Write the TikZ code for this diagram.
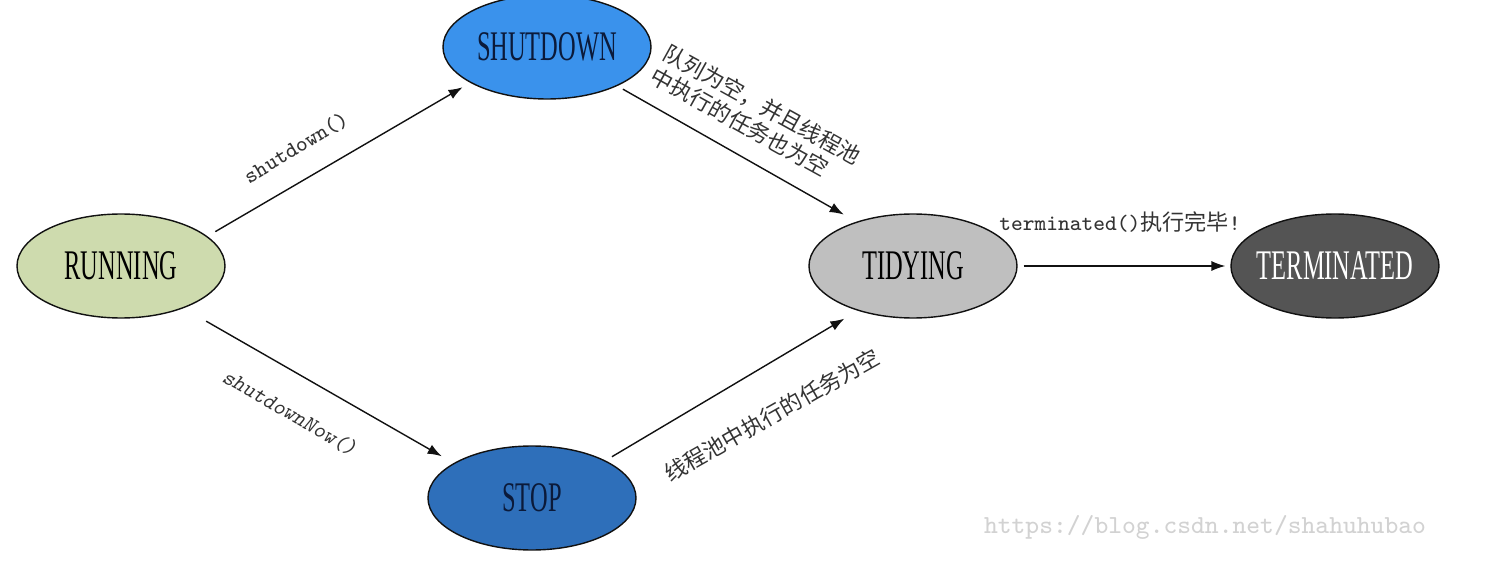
\documentclass[tikz,border=0pt]{standalone}
\usepackage{fontspec}
\newfontfamily\statefont[FakeStretch=0.58]{Liberation Serif}
\newfontfamily\cjk{Noto Sans CJK SC}
\usetikzlibrary{arrows.meta,shapes.geometric}
\definecolor{runfill}{HTML}{CEDBAE}
\definecolor{shutfill}{HTML}{3A92EC}
\definecolor{stopfill}{HTML}{2E6FBA}
\definecolor{tidyfill}{HTML}{BFBFBF}
\definecolor{termfill}{HTML}{545454}
\definecolor{navy}{HTML}{0B1A3A}
\definecolor{ink}{HTML}{111111}
\definecolor{txt}{HTML}{333333}
\definecolor{wmark}{HTML}{D2D2D2}

\begin{document}
\begin{tikzpicture}[
    state/.style={ellipse,draw=ink,line width=0.4pt,inner sep=0pt,
        minimum width=2.08cm,minimum height=1.04cm,
        font=\statefont\fontsize{12}{14}\selectfont},
    trans/.style={-{Latex[length=4pt,width=2.9pt]},ink,line width=0.4pt},
    lbl/.style={txt,font=\ttfamily\fontsize{6.3}{8}\selectfont,inner sep=0pt},
    cjklbl/.style={txt,font=\cjk\fontsize{6.3}{7.4}\selectfont,inner sep=0pt},
  ]
  \useasboundingbox (0,0) rectangle (14.88,5.68);

  % ============================================================= STATES
  % text kept in a zero-width box so the ellipse size stays fixed
  \node[state,fill=runfill] (running) at (1.21,3.02) {\makebox[0pt]{RUNNING}};
  \node[state,fill=shutfill,text=navy] (shutdown) at (5.47,5.21)
    {\makebox[0pt]{SHUTDOWN}};
  \node[state,fill=stopfill,text=navy] (stop) at (5.32,0.70)
    {\makebox[0pt]{STOP}};
  \node[state,fill=tidyfill] (tidying) at (9.13,3.02) {\makebox[0pt]{TIDYING}};
  \node[state,fill=termfill,text=white] (terminated) at (13.35,3.02)
    {\makebox[0pt]{TERMINATED}};

  % ============================================================= TRANSITIONS
  \draw[trans,shorten <=2.6pt,shorten >=2.5pt] (running.19) -- (shutdown.205);
  \draw[trans,shorten <=1.8pt,shorten >=4.1pt] (shutdown.331) -- (tidying.142);
  \draw[trans,shorten <=7.4pt,shorten >=3.9pt] (running.326) -- (stop.156);
  \draw[trans,shorten <=2.1pt,shorten >=4.4pt] (stop.27) -- (tidying.219);
  \draw[trans,shorten <=1.7pt,shorten >=1.4pt] (tidying.east) -- (terminated.west);

  % ============================================================= LABELS
  \node[lbl,rotate=31] (lshut) at (2.96,4.20) {shutdown()};
  \node[lbl,font=\ttfamily\slshape\fontsize{6.3}{8}\selectfont,rotate=-30]
    (lnow) at (2.90,1.55) {shutdownNow()};
  \node[cjklbl,rotate=-29,align=left] (lqueue) at (7.56,4.52)
    {队列为空，并且线程池\\中执行的任务也为空};
  \node[cjklbl,rotate=29.5] (lpool) at (7.72,1.53) {线程池中执行的任务为空};
  \node[lbl] (lterm) at (11.20,3.46) {terminated(){\cjk 执行完毕}!};

  % watermark
  \node[wmark,font=\ttfamily\fontsize{7.4}{9}\selectfont,inner sep=0pt]
    (wm) at (12.05,0.41) {https://blog.csdn.net/shahuhubao};
\end{tikzpicture}
\end{document}
